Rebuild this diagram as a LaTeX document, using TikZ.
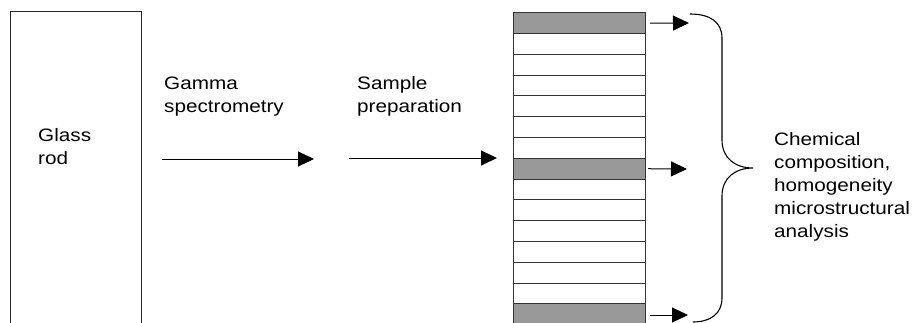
\documentclass[tikz,border=0pt]{standalone}
\usepackage{fontspec}
\setmainfont{Liberation Sans}[FakeStretch=1.15]
\usetikzlibrary{arrows.meta}
\tikzset{
  lbl/.style={anchor=base west, inner sep=0pt, align=left, font=\fontsize{18pt}{23pt}\selectfont},
  slab/.style={draw=black!80, line width=1pt, minimum width=132pt, minimum height=20.79pt, inner sep=0pt, anchor=north west},
  whiteslab/.style={slab, fill=white},
  grayslab/.style={slab, fill=black!40},
  arr/.style={line width=1pt, -{Triangle[length=16pt,width=15pt]}},
}
\begin{document}
\begin{tikzpicture}[x=1pt,y=-1pt]
\useasboundingbox (0,0) rectangle (914,322);
\clip (0,0) rectangle (914,322);
% glass rod
\node[draw=black!85, line width=1.1pt, minimum width=131.5pt, minimum height=340pt, anchor=north west, inner sep=0pt] (rod) at (9.5,11) {};
% anchor base = baseline of the last line
\node[lbl] (glass) at (38,164) {Glass\\rod};
% step labels
\node[lbl] (gamma) at (164,112) {Gamma\\spectrometry};
\node[lbl] (sample) at (357,112) {Sample\\preparation};
% left arrows
\coordinate (a1s) at (162,159);
\coordinate (a1e) at (314,159);
\coordinate (a2s) at (349,158);
\coordinate (a2e) at (497,158);
\draw[arr] (a1s) -- (a1e);
\draw[arr] (a2s) -- (a2e);
% slab stack
\foreach \i in {0,...,13}{
  \pgfmathsetmacro\yy{12.3+\i*20.79}
  \ifnum\i=0 \def\st{grayslab}\else\ifnum\i=7 \def\st{grayslab}\else\def\st{whiteslab}\fi\fi
  \node[\st] (r\i) at (513,\yy) {};
}
\node[grayslab, minimum height=30pt] (r14) at (513,303.36) {};
% right arrows
\coordinate (b0) at (689,23);
\coordinate (b7) at (687,169);
\coordinate (b14) at (688,315);
\draw[arr] ([xshift=4pt]r0.east) -- (b0);
\draw[arr] ([xshift=2pt]r7.east) -- (b7);
\draw[arr] ([xshift=4pt]r14.east |- b14) -- (b14);
% brace
\coordinate (btop) at (690,14);
\coordinate (btip) at (753,168);
\coordinate (bbot) at (693,322);
\draw[line width=1.1pt] (btop) .. controls (710,14) and (722,22) .. (722,38)
  -- (722,140) .. controls (722,158) and (735,168) .. (btip)
  .. controls (735,168) and (722,178) .. (722,196)
  -- (722,298) .. controls (722,314) and (710,322) .. (bbot);
\node[lbl] (result) at (774,237) {Chemical\\composition,\\homogeneity\\microstructural\\analysis};
\end{tikzpicture}
\end{document}
